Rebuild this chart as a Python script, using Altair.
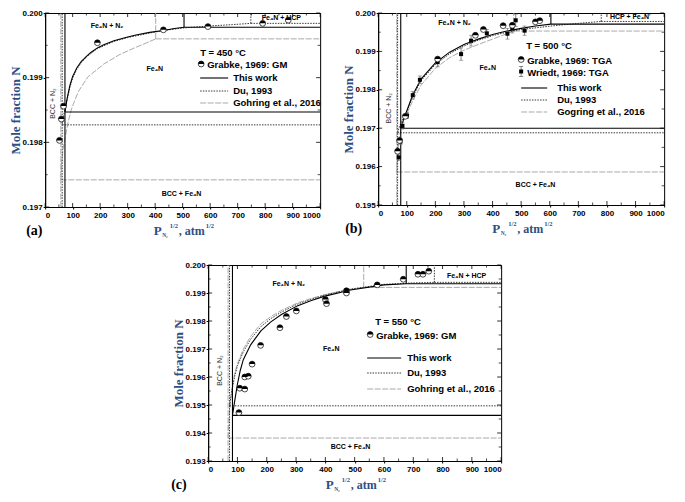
import altair as alt
import pandas as pd

SANS = "Liberation Sans"
SERIF = "Liberation Serif"
BLUE = "#2C4F85"

# ---------------- axis ticks ----------------
X_TICKS = [0, 100, 200, 300, 400, 500, 600, 700, 800, 900, 1000]
X_MINOR = [50, 150, 250, 350, 450, 550, 650, 750, 850, 950]

A_Y_TICKS = [0.197, 0.198, 0.199, 0.200]
A_Y_MINOR = [0.1975, 0.1985, 0.1995]
B_Y_TICKS = [0.195, 0.196, 0.197, 0.198, 0.199, 0.200]
B_Y_MINOR = [0.1955, 0.1965, 0.1975, 0.1985, 0.1995]
C_Y_TICKS = [0.193, 0.194, 0.195, 0.196, 0.197, 0.198, 0.199, 0.200]
C_Y_MINOR = [0.1935, 0.1945, 0.1955, 0.1965, 0.1975, 0.1985, 0.1995]

# ---------------- panel (a) 450 C ----------------
A_GO_X = [57, 60, 65, 73, 84, 96, 120, 155, 213, 272, 330, 370, 402]
A_GO_Y = [0.19742, 0.19768, 0.19789, 0.19808, 0.19832, 0.19852, 0.19878, 0.19901, 0.19921, 0.19936, 0.19947, 0.19954, 0.19960]
A_DU_X = [62, 70, 80, 90, 100, 115, 131, 150, 190, 250, 300, 380, 430, 505, 600, 680, 748]
A_DU_Y = [0.19827, 0.19848, 0.19866, 0.19885, 0.19899, 0.19913, 0.19923, 0.19932, 0.19945, 0.19956, 0.19962, 0.19969, 0.19973, 0.19977, 0.19980, 0.19982, 0.19984]
A_TW_X = [72, 80, 90, 100, 115, 131, 150, 166, 190, 213, 250, 300, 330, 380, 430, 470, 505]
A_TW_Y = [0.19847, 0.19868, 0.19888, 0.19902, 0.19915, 0.19925, 0.19933, 0.19939, 0.19946, 0.19951, 0.19957, 0.19963, 0.19966, 0.19970, 0.19973, 0.19976, 0.19978]
A_GR_X = [52, 59, 67, 190, 430, 592, 791, 884]
A_GR_Y = [0.19803, 0.19836, 0.19856, 0.19954, 0.19974, 0.19979, 0.19984, 0.19989]
A_NOTES = ["Fe₄N + N₂", "Fe₄N + HCP", "Fe₄N", "BCC + Fe₄N"]
A_NOTE_X = [225, 859, 399, 496]
A_NOTE_Y = [0.19980, 0.19992, 0.19913, 0.19720]
A_ROT = ["BCC + N₂"]
A_ROT_X = [30]
A_ROT_Y = [0.19860]

# ---------------- panel (b) 500 C ----------------
B_GO_X = [65, 68, 72, 80, 90, 100, 120, 150, 200, 250, 300, 350, 400, 474]
B_GO_Y = [0.19586, 0.19630, 0.19665, 0.19700, 0.19722, 0.19737, 0.19770, 0.19812, 0.19856, 0.19884, 0.19903, 0.19918, 0.19932, 0.19953]
B_DU_X = [68, 75, 85, 100, 120, 150, 200, 250, 300, 350, 400, 450, 500, 604, 700, 780]
B_DU_Y = [0.19688, 0.19705, 0.19722, 0.19742, 0.19780, 0.19824, 0.19866, 0.19894, 0.19914, 0.19929, 0.19941, 0.19950, 0.19957, 0.19966, 0.19973, 0.19978]
B_TW_X = [79, 90, 100, 120, 150, 200, 250, 300, 350, 400, 450, 500, 550, 604]
B_TW_Y = [0.19700, 0.19725, 0.19745, 0.19785, 0.19828, 0.19870, 0.19898, 0.19918, 0.19932, 0.19944, 0.19953, 0.19960, 0.19966, 0.19971]
B_GR_X = [68, 75, 95, 208, 340, 368, 437, 469, 550, 565]
B_GR_Y = [0.19640, 0.19668, 0.19731, 0.19880, 0.19942, 0.19957, 0.19967, 0.19968, 0.19977, 0.19980]
B_WR_X = [72, 78, 85, 101, 121, 146, 208, 290, 325, 380, 452, 469, 481, 512]
B_WR_Y = [0.19624, 0.19665, 0.19706, 0.19733, 0.19786, 0.19826, 0.19872, 0.19893, 0.19928, 0.19947, 0.19946, 0.19960, 0.19981, 0.19954]
B_WR_E = [0.00008, 0.00008, 0.00008, 0.00008, 0.00010, 0.00010, 0.00012, 0.00016, 0.00014, 0.00010, 0.00014, 0.00012, 0.00016, 0.00012]
B_NOTES = ["Fe₄N + N₂", "HCP + Fe₄N", "Fe₄N", "BCC + Fe₄N"]
B_NOTE_X = [267, 879, 383, 550]
B_NOTE_Y = [0.19973, 0.19990, 0.19856, 0.19551]
B_ROT = ["BCC + N₂"]
B_ROT_X = [39]
B_ROT_Y = [0.19752]

# ---------------- panel (c) 550 C ----------------
C_GO_X = [68, 70, 75, 80, 90, 100, 120, 145, 180, 213, 250, 304, 350, 395, 450, 531]
C_GO_Y = [0.19382, 0.19430, 0.19500, 0.19550, 0.19610, 0.19648, 0.19700, 0.19745, 0.19790, 0.19815, 0.19838, 0.19864, 0.19880, 0.19893, 0.19906, 0.19920]
C_DU_X = [73, 80, 90, 100, 120, 145, 180, 213, 250, 304, 350, 395, 486, 600, 700, 772]
C_DU_Y = [0.19497, 0.19545, 0.19600, 0.19640, 0.19690, 0.19735, 0.19780, 0.19808, 0.19832, 0.19860, 0.19877, 0.19892, 0.19914, 0.19931, 0.19936, 0.19938]
C_TW_X = [83, 90, 100, 110, 120, 145, 180, 213, 250, 304, 350, 395, 486, 600, 676]
C_TW_Y = [0.19463, 0.19510, 0.19575, 0.19625, 0.19662, 0.19715, 0.19765, 0.19796, 0.19823, 0.19854, 0.19872, 0.19888, 0.19911, 0.19929, 0.19933]
C_GR_X = [105, 108, 125, 125, 137, 150, 179, 245, 267, 301, 400, 404, 472, 472, 577, 666, 716, 733, 753]
C_GR_Y = [0.19473, 0.19560, 0.19557, 0.19600, 0.19603, 0.19646, 0.19713, 0.19776, 0.19816, 0.19836, 0.19877, 0.19862, 0.19908, 0.19900, 0.19929, 0.19949, 0.19967, 0.19967, 0.19978]
C_NOTES = ["Fe₄N + N₂", "Fe₄N + HCP", "Fe₄N", "BCC + Fe₄N"]
C_NOTE_X = [275, 882, 420, 486]
C_NOTE_Y = [0.19932, 0.19961, 0.19700, 0.19349]
C_ROT = ["BCC + N₂"]
C_ROT_X = [42]
C_ROT_Y = [0.19623]

LEG_A = ["This work", "Du, 1993", "Gohring et al., 2016"]
LEG_B = ["This work", "Du, 1993", "Gogring et al., 2016"]

STYLE = {
    "tw": {"color": "black", "strokeWidth": 1.1},
    "du": {"color": "#3a3a3a", "strokeWidth": 1.0, "strokeDash": [1.5, 1.2]},
    "go": {"color": "#9b9b9b", "strokeWidth": 0.85, "strokeDash": [6, 1.5]},
}
HALF = "M-1,0 A1,1 0 0,1 1,0 Z"
ONE = pd.DataFrame({"k": [0]})


def txt(s, x, y, size=9.5, font=SANS, color="black", align="left", weight="bold", angle=0):
    return alt.Chart(ONE).mark_text(text=s, fontSize=size, font=font, color=color, align=align,
                                    fontWeight=weight, baseline="alphabetic", angle=angle).encode(
        x=alt.value(x), y=alt.value(y))


def build_panel(W, H, ydom, yticks, yminor, curves, grab, notes, rot, legend, tag, tag_dx, wr=None):
    ylo, yhi = ydom
    xs = alt.Scale(domain=[0, 1000], nice=False, zero=False)
    ys = alt.Scale(domain=[ylo, yhi], nice=False, zero=False)
    xaxis = alt.Axis(values=X_TICKS, format="d", title=None, tickSize=2, labelPadding=2,
                     grid=False, labelOverlap=False, labelBound=False)
    yaxis = alt.Axis(values=yticks, format=".3f", title="Mole fraction N", tickSize=2,
                     labelPadding=1, titlePadding=0, grid=False)

    def X(f="x"):
        return alt.X(f"{f}:Q", scale=xs, axis=xaxis)

    def Y(f="y"):
        return alt.Y(f"{f}:Q", scale=ys, axis=yaxis)

    layers = []
    dxt = pd.DataFrame({"x": X_TICKS})
    dxm = pd.DataFrame({"x": X_MINOR})
    dyt = pd.DataFrame({"y": yticks})
    dym = pd.DataFrame({"y": yminor})
    # inward ticks on all four sides
    for ya, yb, d, w in [(H - 4, H, dxt, 0.8), (0, 4, dxt, 0.8), (H - 2.5, H, dxm, 0.7), (0, 2.5, dxm, 0.7)]:
        layers.append(alt.Chart(d).mark_rule(color="black", strokeWidth=w).encode(
            x=X(), y=alt.value(ya), y2=alt.value(yb)))
    for xa, xb, d, w in [(0, 4, dyt, 0.8), (W - 4, W, dyt, 0.8), (0, 2.5, dym, 0.7), (W - 2.5, W, dym, 0.7)]:
        layers.append(alt.Chart(d).mark_rule(color="black", strokeWidth=w).encode(
            y=Y(), x=alt.value(xa), x2=alt.value(xb)))

    # phase boundaries and model curves
    for key in ["go", "du", "tw"]:
        cx, cy = curves[key]
        segs = [list(zip(cx, cy)),
                [(cx[0], ylo), (cx[0], yhi)],
                [(cx[0], cy[0]), (1000, cy[0])],
                [(cx[-1], cy[-1]), (cx[-1], yhi)],
                [(cx[-1], cy[-1]), (1000, cy[-1])]]
        rows = []
        for si, seg in enumerate(segs):
            for oi, (x, y) in enumerate(seg):
                rows.append({"seg": si, "o": oi, "x": x, "y": y})
        df = pd.DataFrame(rows)
        layers.append(alt.Chart(df).mark_line(**STYLE[key]).encode(
            x=X(), y=Y(), detail="seg:N", order="o:Q"))

    # region labels
    nt, nx, ny = notes
    dn = pd.DataFrame({"t": nt, "x": nx, "y": ny})
    layers.append(alt.Chart(dn).mark_text(fontSize=7, font=SANS, fontWeight="bold", color="black").encode(
        x=X(), y=Y(), text="t:N"))
    rt, rx, ry = rot
    dr = pd.DataFrame({"t": rt, "x": rx, "y": ry})
    layers.append(alt.Chart(dr).mark_text(fontSize=7, font=SANS, fontWeight="normal", color="#333",
                                          angle=270).encode(x=X(), y=Y(), text="t:N"))

    # Wriedt data with error bars
    if wr is not None:
        wx, wy, we = wr
        dw = pd.DataFrame({"x": wx, "y": wy, "lo": [a - b for a, b in zip(wy, we)],
                           "hi": [a + b for a, b in zip(wy, we)]})
        layers.append(alt.Chart(dw).mark_rule(color="#666", strokeWidth=0.8).encode(
            x=X(), y=Y("lo"), y2=alt.Y2("hi")))
        for f in ["lo", "hi"]:
            layers.append(alt.Chart(dw).mark_tick(orient="horizontal", size=4, thickness=0.8,
                                                  color="#666").encode(x=X(), y=Y(f)))
        layers.append(alt.Chart(dw).mark_point(shape="square", filled=True, color="black",
                                               size=16, opacity=1).encode(x=X(), y=Y()))

    gx, gy = grab
    dg = pd.DataFrame({"x": gx, "y": gy})
    layers.append(alt.Chart(dg).mark_point(shape="circle", filled=True, fill="white", stroke="black",
                                           strokeWidth=0.7, size=34, opacity=1).encode(x=X(), y=Y()))
    layers.append(alt.Chart(dg).mark_point(shape=HALF, filled=True, fill="black", strokeWidth=0,
                                           size=34, opacity=1).encode(x=X(), y=Y()))

    # legend
    lx, ly = legend["T"]
    layers.append(txt(legend["Ttext"], lx, ly, size=9.5))
    sx, sy = legend["grab"]
    layers.append(alt.Chart(ONE).mark_point(shape="circle", filled=True, fill="white", stroke="black",
                                            strokeWidth=0.7, size=34, opacity=1).encode(
        x=alt.value(sx), y=alt.value(sy)))
    layers.append(alt.Chart(ONE).mark_point(shape=HALF, filled=True, fill="black", strokeWidth=0,
                                            size=34, opacity=1).encode(x=alt.value(sx), y=alt.value(sy)))
    layers.append(txt(legend["grabtext"], sx + 6, sy + 4))
    if "wr" in legend:
        wx0, wy0 = legend["wr"]
        layers.append(alt.Chart(ONE).mark_rule(color="#666", strokeWidth=0.8).encode(
            x=alt.value(wx0), y=alt.value(wy0 - 5), y2=alt.value(wy0 + 5)))
        for dy in (-5, 5):
            layers.append(alt.Chart(ONE).mark_rule(color="#666", strokeWidth=0.8).encode(
                x=alt.value(wx0 - 2), x2=alt.value(wx0 + 2), y=alt.value(wy0 + dy)))
        layers.append(alt.Chart(ONE).mark_point(shape="square", filled=True, color="black", size=16,
                                                opacity=1).encode(x=alt.value(wx0), y=alt.value(wy0)))
        layers.append(txt("Wriedt, 1969: TGA", wx0 + 6, wy0 + 4))
    x1, x2 = legend["lx"]
    for key, name, yy in zip(["tw", "du", "go"], legend["names"], legend["rows"]):
        layers.append(alt.Chart(ONE).mark_rule(**STYLE[key]).encode(
            x=alt.value(x1), x2=alt.value(x2), y=alt.value(yy)))
        layers.append(txt(name, legend["tx"], yy + 3.4))

    # x-axis title with sub/superscripts
    x0 = W / 2 - 29
    layers.append(txt("P", x0, H + 28, size=13, font=SERIF, color=BLUE))
    layers.append(txt("N₂", x0 + 8.5, H + 30, size=5.5, font=SERIF, color=BLUE))
    layers.append(txt("1/2", x0 + 16, H + 20.5, size=6.5, font=SERIF, color=BLUE))
    layers.append(txt(", atm", x0 + 25, H + 28, size=12, font=SERIF, color=BLUE))
    layers.append(txt("1/2", x0 + 52, H + 20.5, size=6.5, font=SERIF, color=BLUE))
    layers.append(txt(tag, tag_dx, H + 28, size=14, font=SERIF, color="black"))

    return alt.layer(*layers).properties(width=W, height=H)


pa = build_panel(
    275, 194, (0.197, 0.200), A_Y_TICKS, A_Y_MINOR,
    {"go": (A_GO_X, A_GO_Y), "du": (A_DU_X, A_DU_Y), "tw": (A_TW_X, A_TW_Y)},
    (A_GR_X, A_GR_Y), (A_NOTES, A_NOTE_X, A_NOTE_Y), (A_ROT, A_ROT_X, A_ROT_Y),
    {"T": (155, 43), "Ttext": "T = 450 °C", "grab": (156, 51), "grabtext": "Grabke, 1969: GM",
     "lx": (155, 183), "rows": [65, 78, 90], "tx": 188, "names": LEG_A},
    "(a)", -19)

pb = build_panel(
    286, 192, (0.195, 0.200), B_Y_TICKS, B_Y_MINOR,
    {"go": (B_GO_X, B_GO_Y), "du": (B_DU_X, B_DU_Y), "tw": (B_TW_X, B_TW_Y)},
    (B_GR_X, B_GR_Y), (B_NOTES, B_NOTE_X, B_NOTE_Y), (B_ROT, B_ROT_X, B_ROT_Y),
    {"T": (148, 36), "Ttext": "T = 500 °C", "grab": (143, 46.5), "grabtext": "Grabke, 1969: TGA",
     "wr": (143, 58.5), "lx": (143, 169), "rows": [75, 87, 99], "tx": 179, "names": LEG_B},
    "(b)", -33, wr=(B_WR_X, B_WR_Y, B_WR_E))

pc = build_panel(
    293, 196, (0.193, 0.200), C_Y_TICKS, C_Y_MINOR,
    {"go": (C_GO_X, C_GO_Y), "du": (C_DU_X, C_DU_Y), "tw": (C_TW_X, C_TW_Y)},
    (C_GR_X, C_GR_Y), (C_NOTES, C_NOTE_X, C_NOTE_Y), (C_ROT, C_ROT_X, C_ROT_Y),
    {"T": (167, 60), "Ttext": "T = 550 °C", "grab": (162, 69.5), "grabtext": "Grabke, 1969: GM",
     "lx": (159, 193), "rows": [93, 108, 124], "tx": 199, "names": LEG_A},
    "(c)", -37)

top = alt.hconcat(pa, pb, spacing=18)
chart = alt.vconcat(top, pc, spacing=21, center=True).properties(
    padding=0, background="white"
).configure_view(stroke="black", strokeWidth=1).configure_axis(
    labelFont=SANS, labelFontSize=8, labelFontWeight="bold", labelColor="black",
    domainColor="black", tickColor="black", titleFont=SERIF, titleFontSize=13,
    titleFontWeight="bold", titleColor=BLUE, grid=False)

chart.save("out.html", embed_options={"renderer": "svg", "actions": False})
